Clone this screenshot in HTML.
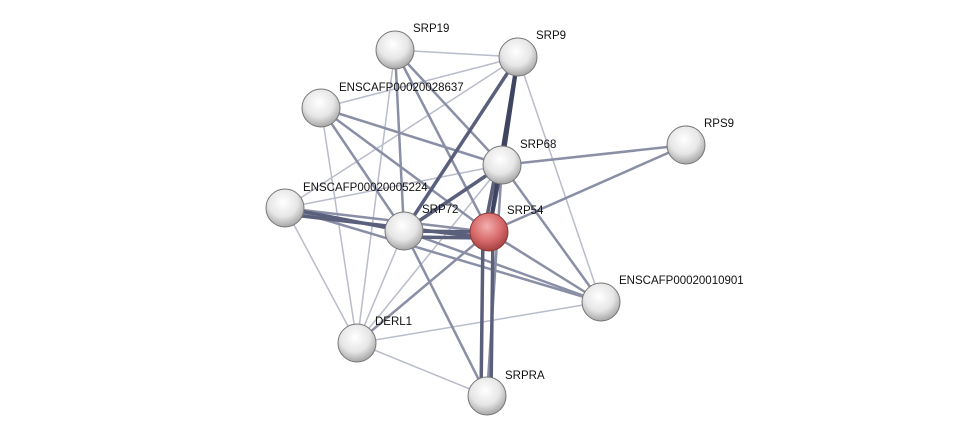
<!DOCTYPE html>
<html><head><meta charset="utf-8"><style>
html,body{margin:0;padding:0;background:#fff;}
svg{display:block}
text{font-family:"Liberation Sans",sans-serif;font-size:11.5px;fill:#111}
</style></head><body>
<svg width="975" height="442" viewBox="0 0 975 442" xmlns="http://www.w3.org/2000/svg">
<defs>
<radialGradient id="g" cx="45%" cy="35%" r="70%">
<stop offset="0" stop-color="#ffffff"/><stop offset="0.55" stop-color="#e6e6e6"/><stop offset="1" stop-color="#9a9a9a"/>
</radialGradient>
<radialGradient id="r" cx="45%" cy="35%" r="70%">
<stop offset="0" stop-color="#f4b0b0"/><stop offset="0.55" stop-color="#d86a6a"/><stop offset="1" stop-color="#9a3a3a"/>
</radialGradient>
<linearGradient id="hl" x1="0" y1="0" x2="0" y2="1"><stop offset="0" stop-color="#fff" stop-opacity="0.9"/><stop offset="1" stop-color="#fff" stop-opacity="0"/></linearGradient>
</defs>
<g stroke-linecap="round">
<!-- light -->
<g stroke="#b8bccb" stroke-width="1.5">
<line x1="395" y1="50" x2="518" y2="57"/>
<line x1="395" y1="50" x2="357" y2="343"/>
<line x1="518" y1="57" x2="321" y2="108"/>
<line x1="518" y1="57" x2="285" y2="208"/>
<line x1="518" y1="57" x2="601" y2="302"/>
<line x1="321" y1="108" x2="357" y2="343"/>
<line x1="502" y1="165" x2="285" y2="208"/>
<line x1="502" y1="165" x2="357" y2="343"/>
<line x1="285" y1="208" x2="357" y2="343"/>
<line x1="404" y1="231" x2="357" y2="343"/>
<line x1="357" y1="343" x2="601" y2="302"/>
<line x1="357" y1="343" x2="487" y2="396"/>
</g>
<!-- medium -->
<g stroke="#8a8fa6" stroke-width="2.5">
<line x1="395" y1="50" x2="502" y2="165"/>
<line x1="395" y1="50" x2="489" y2="232"/>
<line x1="395" y1="50" x2="404" y2="231"/>
<line x1="321" y1="108" x2="502" y2="165"/>
<line x1="321" y1="108" x2="489" y2="232"/>
<line x1="321" y1="108" x2="404" y2="231"/>
<line x1="686" y1="145" x2="502" y2="165"/>
<line x1="686" y1="145" x2="489" y2="232"/>
<line x1="502" y1="165" x2="601" y2="302"/>
<line x1="502" y1="165" x2="487" y2="396"/>
<line x1="285" y1="208" x2="489" y2="232"/>
<line x1="285" y1="208" x2="601" y2="302"/>
<line x1="404" y1="231" x2="601" y2="302"/>
<line x1="489" y1="232" x2="601" y2="302"/>
<line x1="489" y1="232" x2="357" y2="343"/>
<line x1="404" y1="231" x2="487" y2="396"/>
</g>
<!-- thick -->
<g stroke="#5a607c" stroke-width="3.5">
<line x1="518" y1="57" x2="404" y2="231"/>
<line x1="502" y1="165" x2="404" y2="231"/>
<line x1="285" y1="208" x2="404" y2="231"/>
<line x1="285" y1="214" x2="489" y2="238"/>
<line x1="404" y1="231" x2="489" y2="232"/>
<line x1="404" y1="237" x2="489" y2="238"/>
<line x1="483" y1="232" x2="481" y2="396"/>
<line x1="493" y1="232" x2="491" y2="396"/>
<line x1="502" y1="165" x2="489" y2="232"/>
<line x1="497" y1="165" x2="484" y2="232"/>
</g>
<g stroke="#3f4560" stroke-width="4">
<line x1="518" y1="57" x2="502" y2="165"/>
<line x1="518" y1="57" x2="489" y2="232"/>
</g>
</g>
<g stroke="#777" stroke-width="1">
<circle cx="395" cy="50" r="19" fill="url(#g)"/>
<circle cx="518" cy="57" r="19" fill="url(#g)"/>
<circle cx="321" cy="108" r="19" fill="url(#g)"/>
<circle cx="686" cy="145" r="19" fill="url(#g)"/>
<circle cx="502" cy="165" r="19" fill="url(#g)"/>
<circle cx="285" cy="208" r="19" fill="url(#g)"/>
<circle cx="404" cy="231" r="19" fill="url(#g)"/>
<circle cx="489" cy="232" r="19" fill="url(#r)" stroke="#8a3a3a"/>
<circle cx="601" cy="302" r="19" fill="url(#g)"/>
<circle cx="357" cy="343" r="19" fill="url(#g)"/>
<circle cx="487" cy="396" r="19" fill="url(#g)"/>
</g>
<text x="413" y="32">SRP19</text>
<text x="536" y="39">SRP9</text>
<text x="339" y="91">ENSCAFP00020028637</text>
<text x="704" y="127">RPS9</text>
<text x="520" y="148">SRP68</text>
<text x="303" y="191">ENSCAFP00020005224</text>
<text x="422" y="213">SRP72</text>
<text x="507" y="214">SRP54</text>
<text x="619" y="284">ENSCAFP00020010901</text>
<text x="375" y="325">DERL1</text>
<text x="505" y="379">SRPRA</text>
</svg>
</body></html>
